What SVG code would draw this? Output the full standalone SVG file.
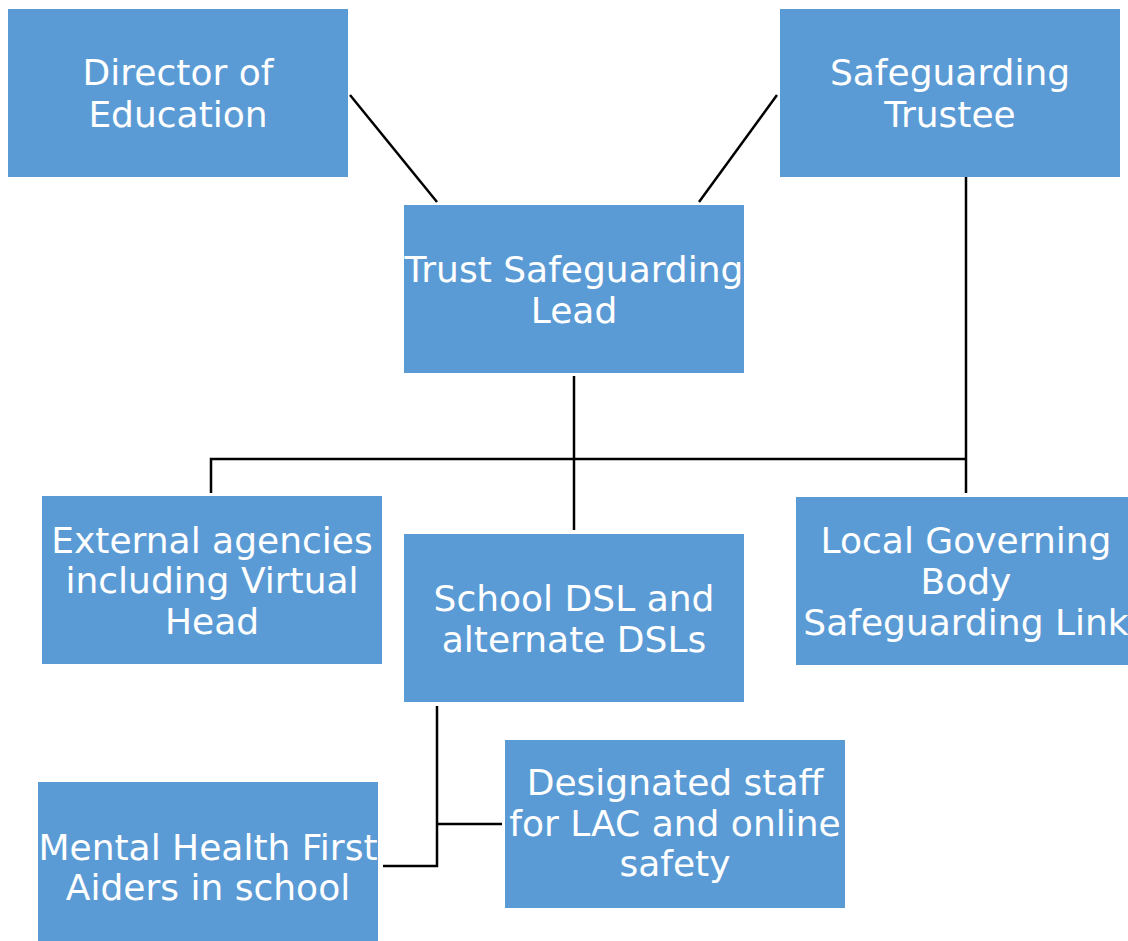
<svg xmlns="http://www.w3.org/2000/svg" width="1128" height="941" viewBox="0 0 1128 941">
<style>
.box{fill:#5B9BD5}
.t{font-family:"DejaVu Sans ExtraLight","DejaVu Sans","Liberation Sans",sans-serif;font-size:36px;fill:#fff;text-anchor:middle}
.c{stroke:#000;stroke-width:2.5;fill:none}
</style>
<rect width="1128" height="941" fill="#fff"/>
<g id="connectors">
<line class="c" x1="350" y1="95" x2="437" y2="202"/>
<line class="c" x1="777" y1="95" x2="699" y2="202"/>
<line class="c" x1="574" y1="376" x2="574" y2="530"/>
<polyline class="c" points="211,493 211,459 966,459"/>
<line class="c" x1="966" y1="175" x2="966" y2="493"/>
<polyline class="c" points="437,706 437,866 383,866"/>
<line class="c" x1="437" y1="824" x2="502" y2="824"/>
</g>
<g id="director">
<rect class="box" x="8" y="9" width="340" height="168"/>
<text class="t" x="178" y="85">Director of</text>
<text class="t" x="178" y="127">Education</text>
</g>
<g id="trustee">
<rect class="box" x="780" y="9" width="340" height="168"/>
<text class="t" x="950" y="85">Safeguarding</text>
<text class="t" x="950" y="127">Trustee</text>
</g>
<g id="tsl">
<rect class="box" x="404" y="205" width="340" height="168"/>
<text class="t" x="574" y="282">Trust Safeguarding</text>
<text class="t" x="574" y="323">Lead</text>
</g>
<g id="external">
<rect class="box" x="42" y="496" width="340" height="168"/>
<text class="t" x="212" y="553">External agencies</text>
<text class="t" x="212" y="593">including Virtual</text>
<text class="t" x="212" y="634">Head</text>
</g>
<g id="lgb">
<rect class="box" x="796" y="497" width="340" height="168"/>
<text class="t" x="966" y="553">Local Governing</text>
<text class="t" x="966" y="594">Body</text>
<text class="t" x="966" y="635">Safeguarding Link</text>
</g>
<g id="dsl">
<rect class="box" x="404" y="534" width="340" height="168"/>
<text class="t" x="574" y="611">School DSL and</text>
<text class="t" x="574" y="652">alternate DSLs</text>
</g>
<g id="designated">
<rect class="box" x="505" y="740" width="340" height="168"/>
<text class="t" x="675" y="795">Designated staff</text>
<text class="t" x="675" y="836">for LAC and online</text>
<text class="t" x="675" y="876">safety</text>
</g>
<g id="mhfa">
<rect class="box" x="38" y="782" width="340" height="168"/>
<text class="t" x="208" y="860">Mental Health First</text>
<text class="t" x="208" y="900">Aiders in school</text>
</g>
</svg>
